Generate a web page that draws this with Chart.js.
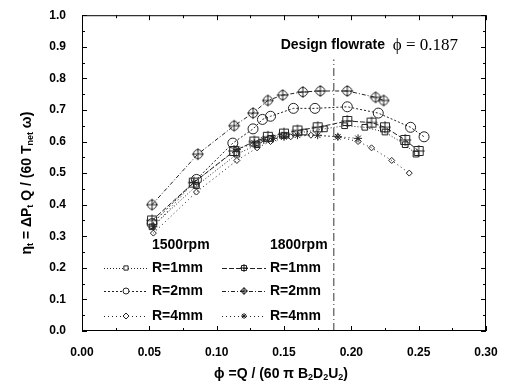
<!DOCTYPE html>
<html>
<head>
<meta charset="utf-8">
<script src="https://cdn.jsdelivr.net/npm/chart.js@4.4.1/dist/chart.umd.min.js"></script>
<style>
  html, body { margin: 0; padding: 0; background: #fff; }
</style>
</head>
<body>
<canvas id="effChart" width="513" height="388"></canvas>
<script>
// flow coefficient (phi) and efficiency (eta) for each rpm / rib radius case
const phi1500R1 = [0.052, 0.085, 0.115, 0.130, 0.140, 0.150, 0.165, 0.180, 0.195, 0.210, 0.225, 0.240, 0.248];
const eta1500R1 = [0.33, 0.46, 0.56, 0.59, 0.61, 0.62, 0.63, 0.64, 0.65, 0.645, 0.63, 0.59, 0.56];

const phi1500R2 = [0.052, 0.085, 0.112, 0.127, 0.134, 0.140, 0.157, 0.173, 0.197, 0.220, 0.244, 0.254];
const eta1500R2 = [0.34, 0.48, 0.595, 0.64, 0.67, 0.68, 0.705, 0.705, 0.71, 0.69, 0.645, 0.615];

const phi1500R4 = [0.053, 0.085, 0.115, 0.130, 0.140, 0.155, 0.170, 0.190, 0.205, 0.215, 0.230, 0.243];
const eta1500R4 = [0.31, 0.44, 0.54, 0.58, 0.60, 0.615, 0.62, 0.615, 0.60, 0.58, 0.54, 0.50];

const phi1800R1 = [0.052, 0.083, 0.113, 0.128, 0.138, 0.150, 0.160, 0.175, 0.197, 0.215, 0.225, 0.240, 0.250];
const eta1800R1 = [0.35, 0.47, 0.57, 0.60, 0.615, 0.625, 0.635, 0.645, 0.665, 0.66, 0.645, 0.605, 0.57];

const phi1800R2 = [0.052, 0.086, 0.113, 0.127, 0.138, 0.149, 0.164, 0.177, 0.197, 0.218, 0.224];
const eta1800R2 = [0.40, 0.56, 0.65, 0.69, 0.73, 0.747, 0.757, 0.76, 0.76, 0.74, 0.73];

const phi1800R4 = [0.053, 0.083, 0.115, 0.128, 0.135, 0.142, 0.150, 0.160, 0.175, 0.190, 0.205];
const eta1800R4 = [0.33, 0.47, 0.575, 0.595, 0.605, 0.61, 0.615, 0.62, 0.62, 0.615, 0.61];

const designPhi = [0.187];
const designEta = [0.0, 0.86];

const xTicks = [0.00, 0.05, 0.10, 0.15, 0.20, 0.25, 0.30];
const yTicks = [0.0, 0.1, 0.2, 0.3, 0.4, 0.5, 0.6, 0.7, 0.8, 0.9, 1.0];

const INK = '#222';
const LABEL_FONT = '"Liberation Sans", Arial, sans-serif';

function pts(xs, ys) {
    return xs.map((x, i) => ({ x: x, y: ys[i] }));
}

// small canvases for the boxed-plus and circled-plus symbols
function crossMarker(kind, r) {
    const size = r * 2 + 4;
    const cv = document.createElement('canvas');
    cv.width = size; cv.height = size;
    const g = cv.getContext('2d');
    const c = size / 2;
    g.strokeStyle = INK;
    g.lineWidth = 1;
    g.beginPath();
    if (kind === 'box') {
        g.rect(c - r + 0.5, c - r + 0.5, r * 2 - 1, r * 2 - 1);
    } else {
        g.arc(c, c, r - 0.5, 0, Math.PI * 2);
    }
    g.moveTo(c - r - 1, c); g.lineTo(c + r + 1, c);
    g.moveTo(c, c - r - 1); g.lineTo(c, c + r + 1);
    g.stroke();
    return cv;
}

const boxPlus = crossMarker('box', 5);
const circlePlus = crossMarker('circle', 5);
const boxPlusSmall = crossMarker('box', 3);
const circlePlusSmall = crossMarker('circle', 3);

function series(label, group, xs, ys, style, legendStyle, dash, radius) {
    return {
        label: label,
        group: group,
        legendStyle: legendStyle,
        data: pts(xs, ys),
        showLine: true,
        borderColor: INK,
        backgroundColor: 'rgba(0,0,0,0)',
        borderWidth: 1,
        borderDash: dash,
        pointStyle: style,
        pointRadius: radius,
        pointBorderColor: INK,
        pointBackgroundColor: 'rgba(0,0,0,0)',
        pointBorderWidth: 1
    };
}

const datasets = [
    series('R=1mm', '1500rpm', phi1500R1, eta1500R1, 'rect', 'rect', [1, 2], 4),
    series('R=2mm', '1500rpm', phi1500R2, eta1500R2, 'circle', 'circle', [2, 2], 5),
    series('R=4mm', '1500rpm', phi1500R4, eta1500R4, 'rectRot', 'rectRot', [1, 3], 3),
    series('R=1mm', '1800rpm', phi1800R1, eta1800R1, boxPlus, boxPlusSmall, [5, 2], 5),
    series('R=2mm', '1800rpm', phi1800R2, eta1800R2, circlePlus, circlePlusSmall, [4, 2, 1, 2], 5),
    series('R=4mm', '1800rpm', phi1800R4, eta1800R4, 'star', 'star', [1, 3], 4),
    {
        label: 'design',
        data: designEta.map(e => ({ x: designPhi[0], y: e })),
        showLine: true,
        borderColor: '#333',
        borderWidth: 1,
        borderDash: [8, 3, 1, 3],
        pointRadius: 0
    }
];

// draw text made of runs, some of them subscripts
function drawRuns(ctx, runs, cx, cy, rotate) {
    ctx.save();
    ctx.translate(cx, cy);
    if (rotate) ctx.rotate(-Math.PI / 2);
    let total = 0;
    runs.forEach(r => {
        ctx.font = r.font;
        r.w = ctx.measureText(r.t).width;
        total += r.w;
    });
    let x = -total / 2;
    ctx.fillStyle = '#000';
    ctx.textBaseline = 'middle';
    ctx.textAlign = 'left';
    runs.forEach(r => {
        ctx.font = r.font;
        ctx.fillText(r.t, x, r.sub ? 4 : 0);
        x += r.w;
    });
    ctx.restore();
}

const B14 = 'bold 14px ' + LABEL_FONT;
const B9 = 'bold 9px ' + LABEL_FONT;
const S17 = '17px "Liberation Serif", "Times New Roman", serif';

const decorations = {
    id: 'decorations',
    afterDraw(chart) {
        const ctx = chart.ctx;
        const a = chart.chartArea;
        const xs = chart.scales.x, ys = chart.scales.y;

        // frame
        ctx.save();
        ctx.strokeStyle = '#000';
        ctx.lineWidth = 1;
        ctx.strokeRect(a.left + 0.5, a.top + 0.5, a.right - a.left - 1, a.bottom - a.top - 1);

        // inward ticks on all four sides
        ctx.beginPath();
        for (let v = 0; v <= 0.3001; v += 0.025) {
            const px = Math.round(xs.getPixelForValue(v)) + 0.5;
            const len = Math.abs((v / 0.05) - Math.round(v / 0.05)) < 1e-6 ? 5 : 3;
            ctx.moveTo(px, a.bottom); ctx.lineTo(px, a.bottom - len);
            ctx.moveTo(px, a.top); ctx.lineTo(px, a.top + len);
        }
        for (let v = 0; v <= 1.0001; v += 0.05) {
            const py = Math.round(ys.getPixelForValue(v)) + 0.5;
            const len = Math.abs((v / 0.1) - Math.round(v / 0.1)) < 1e-6 ? 5 : 3;
            ctx.moveTo(a.left, py); ctx.lineTo(a.left + len, py);
            ctx.moveTo(a.right, py); ctx.lineTo(a.right - len, py);
        }
        ctx.stroke();
        ctx.restore();

        // design flowrate note
        ctx.save();
        ctx.textBaseline = 'middle';
        ctx.textAlign = 'left';
        ctx.fillStyle = '#000';
        ctx.font = B14;
        const t1 = 'Design flowrate  ';
        const w1 = ctx.measureText(t1).width;
        ctx.font = S17;
        const t2 = '\u03D5 = ' + designPhi[0].toFixed(3);
        const w2 = ctx.measureText(t2).width;
        const startX = a.right - 28 - w1 - w2;
        const ty = ys.getPixelForValue(0.905);
        ctx.font = B14;
        ctx.fillText(t1, startX, ty);
        ctx.font = S17;
        ctx.fillText(t2, startX + w1, ty);
        ctx.restore();

        // two-column legend
        const groups = ['1500rpm', '1800rpm'];
        const colX = [a.left + 22, a.left + 140];
        const headY = 245, rowY = [268, 291, 316];
        ctx.save();
        groups.forEach((g, gi) => {
            const x0 = colX[gi];
            ctx.font = B14;
            ctx.fillStyle = '#000';
            ctx.textBaseline = 'middle';
            ctx.textAlign = 'left';
            ctx.fillText(g, x0 + 48, headY);
            let row = 0;
            chart.data.datasets.forEach(ds => {
                if (ds.group !== g) return;
                const y = rowY[row++];
                ctx.save();
                ctx.strokeStyle = ds.borderColor;
                ctx.lineWidth = 1;
                ctx.setLineDash(ds.borderDash);
                ctx.beginPath();
                ctx.moveTo(x0, y + 0.5); ctx.lineTo(x0 + 44, y + 0.5);
                ctx.stroke();
                ctx.setLineDash([]);
                ctx.fillStyle = '#fff';
                ctx.strokeStyle = ds.pointBorderColor;
                Chart.helpers.drawPoint(ctx, {
                    pointStyle: ds.legendStyle,
                    radius: 3,
                    borderWidth: 1,
                    rotation: 0
                }, x0 + 22, y);
                ctx.restore();
                ctx.font = B14;
                ctx.fillStyle = '#000';
                ctx.fillText(ds.label, x0 + 48, y);
            });
        });
        ctx.restore();

        // axis titles
        drawRuns(ctx, [
            { t: '\u03D5 =Q / (60 \u03C0 B', font: B14 },
            { t: '2', font: B9, sub: true },
            { t: 'D', font: B14 },
            { t: '2', font: B9, sub: true },
            { t: 'U', font: B14 },
            { t: '2', font: B9, sub: true },
            { t: ')', font: B14 }
        ], (a.left + a.right) / 2 - 3, 374, false);

        drawRuns(ctx, [
            { t: '\u03B7', font: B14 },
            { t: 't', font: B9, sub: true },
            { t: ' = \u0394P', font: B14 },
            { t: 't', font: B9, sub: true },
            { t: ' Q / (60 T', font: B14 },
            { t: 'net', font: B9, sub: true },
            { t: ' \u03C9)', font: B14 }
        ], 27, (a.top + a.bottom) / 2 + 10, true);
    }
};

new Chart(document.getElementById('effChart'), {
    type: 'scatter',
    data: { datasets: datasets },
    plugins: [decorations],
    options: {
        responsive: false,
        animation: false,
        devicePixelRatio: 1,
        layout: { padding: { top: 15, right: 27, left: 0, bottom: 0 } },
        plugins: {
            legend: { display: false },
            tooltip: { enabled: false }
        },
        scales: {
            x: {
                type: 'linear',
                min: 0, max: 0.3,
                afterFit(scale) { scale.height = 57; },
                afterBuildTicks(scale) { scale.ticks = xTicks.map(v => ({ value: v })); },
                grid: { display: false },
                border: { display: false },
                ticks: {
                    padding: 6,
                    color: '#000',
                    font: { family: LABEL_FONT, size: 12, weight: 'bold' },
                    callback: v => v.toFixed(2)
                }
            },
            y: {
                type: 'linear',
                min: 0, max: 1,
                afterFit(scale) { scale.width = 82; },
                afterBuildTicks(scale) { scale.ticks = yTicks.map(v => ({ value: v })); },
                grid: { display: false },
                border: { display: false },
                ticks: {
                    padding: 8,
                    color: '#000',
                    font: { family: LABEL_FONT, size: 12, weight: 'bold' },
                    callback: v => v.toFixed(1)
                }
            }
        }
    }
});
</script>
</body>
</html>
